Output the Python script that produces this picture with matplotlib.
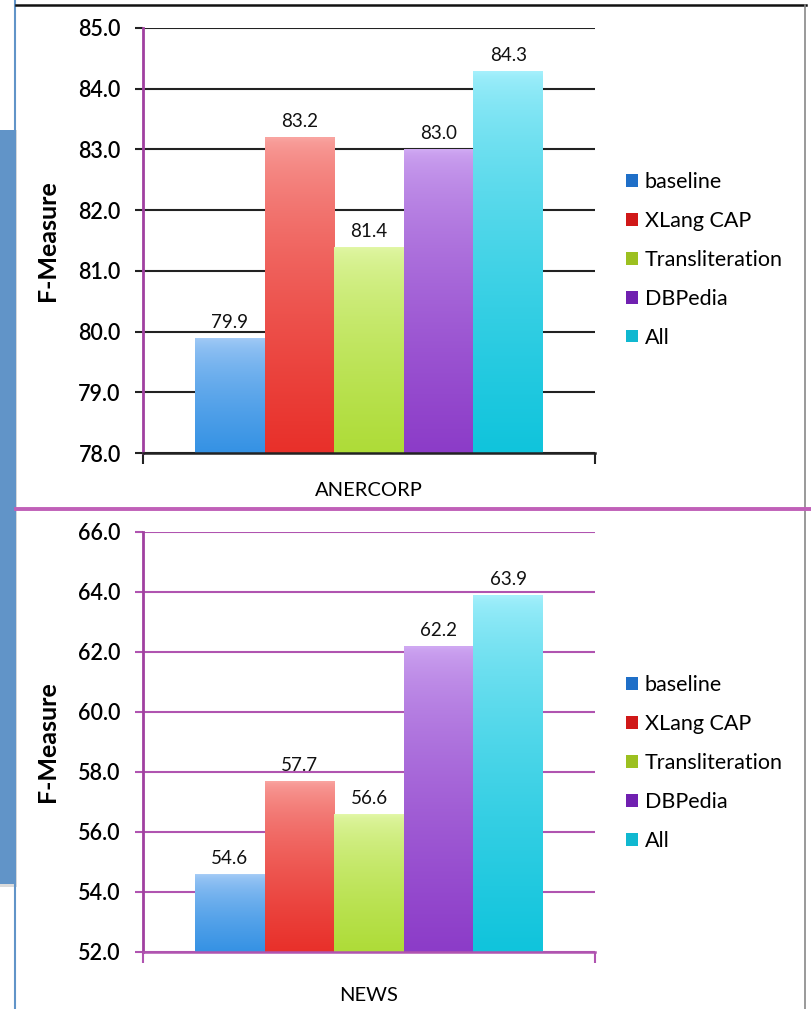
import numpy as np
import matplotlib
matplotlib.use("Agg")
import matplotlib.pyplot as plt
from matplotlib.patches import Rectangle, Patch
from matplotlib.lines import Line2D
from matplotlib.colors import to_rgb

# data
series = ["baseline", "XLang CAP", "Transliteration", "DBPedia", "All"]
anercorp = [79.9, 83.2, 81.4, 83.0, 84.3]
news = [54.6, 57.7, 56.6, 62.2, 63.9]
charts = ["ANERCORP", "NEWS"]

# bar colours: light top, saturated bottom
top_cols = ["#a8cdf7", "#f9a4a0", "#e2f7a8", "#cfa8f2", "#a6f0fc"]
bot_cols = ["#3592e4", "#e8302a", "#aedc38", "#8c3cc8", "#10c4dc"]
legend_cols = ["#1f6fc8", "#d01818", "#9cc020", "#7020b0", "#10b8d0"]

plt.rcParams['font.family'] = ['Lato', 'DejaVu Sans']

W, H = 812, 1009
fig = plt.figure(figsize=(W / 100, H / 100), dpi=100)


def fx(px):
    return px / W


def fy(py):
    return 1 - py / H


# background: blue side panel and frame lines
fig.add_artist(Rectangle((0, fy(887)), fx(17), fy(130) - fy(887),
                         transform=fig.transFigure, facecolor="#b8b8b8", edgecolor="none", alpha=0.5))
fig.add_artist(Rectangle((0, fy(884)), fx(16), fy(130) - fy(884),
                         transform=fig.transFigure, facecolor="#6194c8", edgecolor="none"))
fig.add_artist(Line2D([fx(15.5), fx(15.5)], [0, 1], transform=fig.transFigure, color="#6194c8", lw=1.5))
fig.add_artist(Line2D([fx(16), fx(806)], [fy(5), fy(5)], transform=fig.transFigure, color="#111111", lw=1.8))
fig.add_artist(Line2D([fx(805), fx(805)], [fy(5), 0], transform=fig.transFigure, color="#888888", lw=1.2))
fig.add_artist(Line2D([fx(16), 1], [fy(509), fy(509)], transform=fig.transFigure, color="#c060b8", lw=2.8))

setups = [
    (anercorp, charts[0], (28, 453), (78, 85), 1.0, "#222222", "#222222", 0.7426, 21),
    (news, charts[1], (532, 952), (52, 66), 2.0, "#b054b0", "#b054b0", 0.2438, 25),
]

w = 0.154
for vals, cat, (ytop, ybot), (lo, hi), step, gcol, bcol, leg_y, xpad in setups:
    ax = fig.add_axes([fx(143), fy(ybot), fx(595) - fx(143), fy(ytop) - fy(ybot)])
    ax.set_xlim(-0.5, 0.5)
    ax.set_ylim(lo, hi)
    xs = [(i - 2) * w for i in range(len(vals))]
    bars = ax.bar(xs, np.array(vals) - lo, width=w, bottom=lo, color=bot_cols, zorder=3, linewidth=0)
    for b, c1, c2, v in zip(bars, top_cols, bot_cols, vals):
        grad = np.linspace(0, 1, 100)[:, None] ** 0.6
        rgb = np.array(to_rgb(c1)) * (1 - grad[..., None]) + np.array(to_rgb(c2)) * grad[..., None]
        im = ax.imshow(rgb, extent=[b.get_x(), b.get_x() + b.get_width(), b.get_y(), b.get_y() + b.get_height()],
                       aspect="auto", zorder=3.5, interpolation="bilinear")
        im.set_clip_path(b)
        ax.annotate(f"{v:.1f}", (b.get_x() + b.get_width() / 2, v), xytext=(0, 5),
                    textcoords="offset points", ha="center", va="bottom", fontsize=13.5, color="#111111")
    ax.set_xlim(-0.5, 0.5)
    ax.set_ylim(lo, hi)
    ticks = np.arange(lo, hi + step / 2, step)
    ax.set_yticks(ticks)
    ax.set_yticklabels([f"{t:.1f}" for t in ticks], fontsize=15.5, fontweight="semibold")
    ax.yaxis.grid(True, color=gcol, lw=1.5, zorder=1)
    ax.tick_params(axis="y", direction="out", length=6, width=1.5, color=gcol, pad=10)
    ax.set_xticks([0])
    ax.set_xticklabels([cat], fontsize=14.5)
    ax.tick_params(axis="x", length=0, pad=xpad)
    ax.set_xticks([-0.5, 0.5], minor=True)
    ax.tick_params(axis="x", which="minor", direction="out", length=8, width=1.5, color=bcol)
    for s in ["top", "right"]:
        ax.spines[s].set_visible(False)
    ax.spines["left"].set_color("#a040a0")
    ax.spines["left"].set_linewidth(2)
    ax.spines["bottom"].set_color(bcol)
    ax.spines["bottom"].set_linewidth(1.8)
    ax.spines["bottom"].set_zorder(4)
    ax.set_ylabel("F-Measure", fontsize=18, fontweight="bold", labelpad=14)
    handles = [Patch(facecolor=c, edgecolor="none") for c in legend_cols]
    fig.legend(handles, series, loc="center left", bbox_to_anchor=(fx(607), leg_y), frameon=False,
               fontsize=15.5, handlelength=0.55, handleheight=0.55, handletextpad=0.3, labelspacing=0.88)

fig.savefig("out.png", dpi=100)
